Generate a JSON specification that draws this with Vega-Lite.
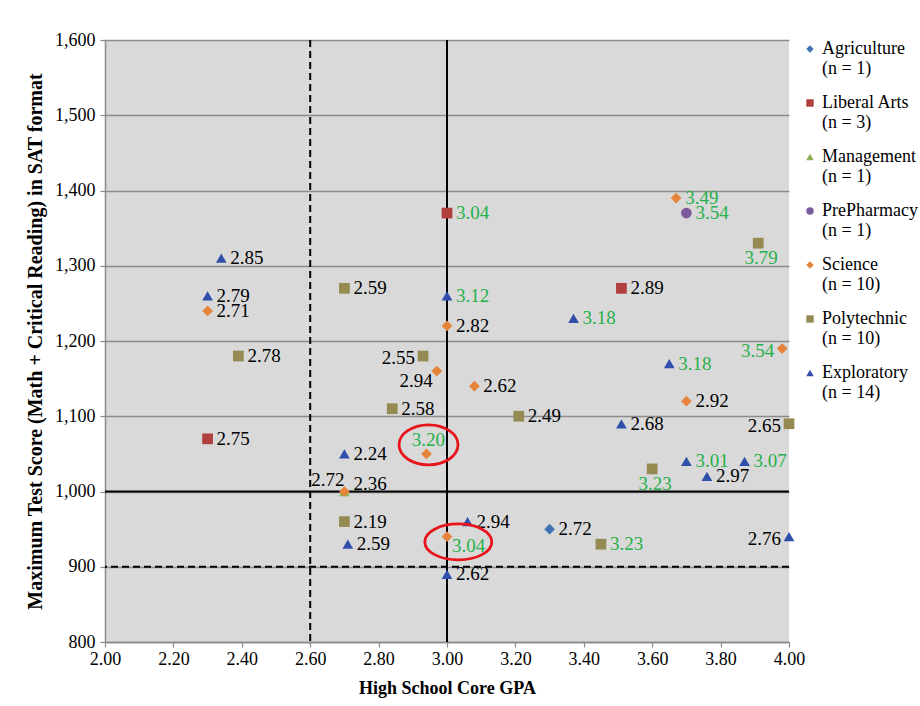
{
  "$schema": "https://vega.github.io/schema/vega-lite/v6.json",
  "width": 684,
  "height": 602,
  "autosize": {"type": "none"},
  "padding": {"left": 105, "top": 40, "right": 131, "bottom": 64},
  "background": "white",
  "config": {
    "view": {"fill": "#d9d9d9", "stroke": null},
    "font": "Liberation Serif",
    "text": {"font": "Liberation Serif", "fontSize": 19, "baseline": "middle"}
  },
  "data": {
    "values": [
      {"program": "Agriculture", "gpa": 3.30, "score": 950, "collegeGPA": 2.72},
      {"program": "Liberal Arts", "gpa": 3.00, "score": 1370, "collegeGPA": 3.04},
      {"program": "Liberal Arts", "gpa": 3.51, "score": 1270, "collegeGPA": 2.89},
      {"program": "Liberal Arts", "gpa": 2.30, "score": 1070, "collegeGPA": 2.75},
      {"program": "Management", "gpa": 2.70, "score": 1000, "collegeGPA": 2.72},
      {"program": "PrePharmacy", "gpa": 3.70, "score": 1370, "collegeGPA": 3.54},
      {"program": "Science", "gpa": 2.30, "score": 1240, "collegeGPA": 2.71},
      {"program": "Science", "gpa": 3.00, "score": 1220, "collegeGPA": 2.82},
      {"program": "Science", "gpa": 2.97, "score": 1160, "collegeGPA": 2.94},
      {"program": "Science", "gpa": 3.08, "score": 1140, "collegeGPA": 2.62},
      {"program": "Science", "gpa": 2.94, "score": 1050, "collegeGPA": 3.20},
      {"program": "Science", "gpa": 2.70, "score": 1000, "collegeGPA": 2.36},
      {"program": "Science", "gpa": 3.00, "score": 940, "collegeGPA": 3.04},
      {"program": "Science", "gpa": 3.67, "score": 1390, "collegeGPA": 3.49},
      {"program": "Science", "gpa": 3.98, "score": 1190, "collegeGPA": 3.54},
      {"program": "Science", "gpa": 3.70, "score": 1120, "collegeGPA": 2.92},
      {"program": "Polytechnic", "gpa": 2.70, "score": 1270, "collegeGPA": 2.59},
      {"program": "Polytechnic", "gpa": 2.39, "score": 1180, "collegeGPA": 2.78},
      {"program": "Polytechnic", "gpa": 2.93, "score": 1180, "collegeGPA": 2.55},
      {"program": "Polytechnic", "gpa": 2.84, "score": 1110, "collegeGPA": 2.58},
      {"program": "Polytechnic", "gpa": 2.70, "score": 960, "collegeGPA": 2.19},
      {"program": "Polytechnic", "gpa": 3.21, "score": 1100, "collegeGPA": 2.49},
      {"program": "Polytechnic", "gpa": 3.60, "score": 1030, "collegeGPA": 3.23},
      {"program": "Polytechnic", "gpa": 3.45, "score": 930, "collegeGPA": 3.23},
      {"program": "Polytechnic", "gpa": 3.91, "score": 1330, "collegeGPA": 3.79},
      {"program": "Polytechnic", "gpa": 4.00, "score": 1090, "collegeGPA": 2.65},
      {"program": "Exploratory", "gpa": 2.34, "score": 1310, "collegeGPA": 2.85},
      {"program": "Exploratory", "gpa": 2.30, "score": 1260, "collegeGPA": 2.79},
      {"program": "Exploratory", "gpa": 3.00, "score": 1260, "collegeGPA": 3.12},
      {"program": "Exploratory", "gpa": 2.70, "score": 1050, "collegeGPA": 2.24},
      {"program": "Exploratory", "gpa": 2.71, "score": 930, "collegeGPA": 2.59},
      {"program": "Exploratory", "gpa": 3.00, "score": 890, "collegeGPA": 2.62},
      {"program": "Exploratory", "gpa": 3.06, "score": 960, "collegeGPA": 2.94},
      {"program": "Exploratory", "gpa": 3.37, "score": 1230, "collegeGPA": 3.18},
      {"program": "Exploratory", "gpa": 3.65, "score": 1170, "collegeGPA": 3.18},
      {"program": "Exploratory", "gpa": 3.51, "score": 1090, "collegeGPA": 2.68},
      {"program": "Exploratory", "gpa": 3.70, "score": 1040, "collegeGPA": 3.01},
      {"program": "Exploratory", "gpa": 3.76, "score": 1020, "collegeGPA": 2.97},
      {"program": "Exploratory", "gpa": 3.87, "score": 1040, "collegeGPA": 3.07},
      {"program": "Exploratory", "gpa": 4.00, "score": 940, "collegeGPA": 2.76}
    ]
  },
  "layer": [
    {
      "data": {"values": [{}]},
      "mark": {"type": "rule", "color": "#000000", "strokeWidth": 2, "strokeDash": [7, 4]},
      "encoding": {"x": {"datum": 2.6, "type": "quantitative", "title": "High School Core GPA"}}
    },
    {
      "data": {"values": [{}]},
      "mark": {"type": "rule", "color": "#000000", "strokeWidth": 2},
      "encoding": {"x": {"datum": 3.0, "type": "quantitative", "title": "High School Core GPA"}}
    },
    {
      "data": {"values": [{}]},
      "mark": {"type": "rule", "color": "#000000", "strokeWidth": 2, "strokeDash": [7, 4]},
      "encoding": {"y": {"datum": 900, "type": "quantitative", "title": "Maximum Test Score (Math + Critical Reading) in SAT format"}}
    },
    {
      "data": {"values": [{}]},
      "mark": {"type": "rule", "color": "#000000", "strokeWidth": 2},
      "encoding": {"y": {"datum": 1000, "type": "quantitative", "title": "Maximum Test Score (Math + Critical Reading) in SAT format"}}
    },
    {
      "mark": {"type": "point", "filled": true, "opacity": 1, "size": 115, "strokeWidth": 0},
      "encoding": {
        "x": {
          "field": "gpa", "type": "quantitative", "title": "High School Core GPA",
          "scale": {"domain": [2, 4], "nice": false, "zero": false},
          "axis": {
            "values": [2, 2.2, 2.4, 2.6, 2.8, 3, 3.2, 3.4, 3.6, 3.8, 4],
            "format": ".2f", "grid": false, "labelFlush": false, "labelOverlap": false,
            "domainColor": "#8a8a8a", "domainWidth": 1.5, "tickColor": "#8a8a8a", "tickSize": 5, "tickWidth": 1.2,
            "labelFont": "Liberation Serif", "labelFontSize": 18, "labelColor": "#000000", "labelPadding": 3,
            "titleFont": "Liberation Serif", "titleFontSize": 18, "titleFontWeight": "bold", "titleColor": "#000000", "titlePadding": 11
          }
        },
        "y": {
          "field": "score", "type": "quantitative", "title": "Maximum Test Score (Math + Critical Reading) in SAT format",
          "scale": {"domain": [800, 1600], "nice": false, "zero": false},
          "axis": {
            "values": [800, 900, 1000, 1100, 1200, 1300, 1400, 1500, 1600],
            "format": ",d", "grid": true, "gridColor": "#8c8c8c", "gridWidth": 1.3, "labelFlush": false, "labelOverlap": false,
            "domainColor": "#8a8a8a", "domainWidth": 1.5, "tickColor": "#8a8a8a", "tickSize": 5, "tickWidth": 1.2,
            "labelFont": "Liberation Serif", "labelFontSize": 18, "labelColor": "#000000", "labelPadding": 5,
            "titleFont": "Liberation Serif", "titleFontSize": 20, "titleFontWeight": "bold", "titleColor": "#000000", "titlePadding": 9
          }
        },
        "color": {
          "field": "program", "type": "nominal",
          "scale": {
            "domain": ["Agriculture", "Liberal Arts", "Management", "PrePharmacy", "Science", "Polytechnic", "Exploratory"],
            "range": ["#3f73b3", "#b03f3d", "#8cb153", "#7b5b9e", "#e5843a", "#958b52", "#2f4fab"]
          },
          "legend": {
            "orient": "right", "offset": 12, "title": null, "padding": 0,
            "symbolSize": 55, "symbolStrokeWidth": 0,
            "labelFont": "Liberation Serif", "labelFontSize": 18, "labelColor": "#000000",
            "labelOffset": 3, "labelLimit": 200, "rowPadding": 16,
            "labelExpr": "[datum.label, '(n = ' + (datum.label == 'Liberal Arts' ? '3' : datum.label == 'Exploratory' ? '14' : (datum.label == 'Science' || datum.label == 'Polytechnic') ? '10' : '1') + ')']"
          }
        },
        "shape": {
          "field": "program", "type": "nominal",
          "scale": {
            "domain": ["Agriculture", "Liberal Arts", "Management", "PrePharmacy", "Science", "Polytechnic", "Exploratory"],
            "range": ["diamond", "square", "triangle-up", "circle", "diamond", "square", "triangle-up"]
          },
          "legend": {
            "orient": "right", "offset": 12, "title": null, "padding": 0,
            "symbolSize": 55, "symbolStrokeWidth": 0,
            "labelFont": "Liberation Serif", "labelFontSize": 18, "labelColor": "#000000",
            "labelOffset": 3, "labelLimit": 200, "rowPadding": 16,
            "labelExpr": "[datum.label, '(n = ' + (datum.label == 'Liberal Arts' ? '3' : datum.label == 'Exploratory' ? '14' : (datum.label == 'Science' || datum.label == 'Polytechnic') ? '10' : '1') + ')']"
          }
        }
      }
    },
    {
      "transform": [{"filter": "!((datum.program=='Polytechnic'&&(datum.collegeGPA==2.55||datum.collegeGPA==2.65||(datum.collegeGPA>=3.2&&datum.score>=1000)))||(datum.program=='Exploratory'&&datum.collegeGPA==2.76)||(datum.program=='Science'&&(datum.collegeGPA==3.54||datum.collegeGPA==2.94||datum.collegeGPA==2.36||datum.collegeGPA==3.2||datum.collegeGPA==3.04))||datum.program=='Management')"}],
      "mark": {"type": "text", "font": "Liberation Serif", "align": "left", "dx": 9, "dy": 0},
      "encoding": {
        "x": {"field": "gpa", "type": "quantitative", "title": "High School Core GPA"},
        "y": {"field": "score", "type": "quantitative", "title": "Maximum Test Score (Math + Critical Reading) in SAT format"},
        "text": {"field": "collegeGPA", "type": "quantitative", "format": ".2f"},
        "color": {"condition": {"test": "datum.collegeGPA >= 3", "value": "#27b14a"}, "value": "#000000"}
      }
    },
    {
      "transform": [{"filter": "(datum.program=='Polytechnic'&&(datum.collegeGPA==2.55||datum.collegeGPA==2.65))||(datum.program=='Exploratory'&&datum.collegeGPA==2.76)||(datum.program=='Science'&&datum.collegeGPA==3.54)"}],
      "mark": {"type": "text", "font": "Liberation Serif", "align": "right", "dx": -8, "dy": 2},
      "encoding": {
        "x": {"field": "gpa", "type": "quantitative", "title": "High School Core GPA"},
        "y": {"field": "score", "type": "quantitative", "title": "Maximum Test Score (Math + Critical Reading) in SAT format"},
        "text": {"field": "collegeGPA", "type": "quantitative", "format": ".2f"},
        "color": {"condition": {"test": "datum.collegeGPA >= 3", "value": "#27b14a"}, "value": "#000000"}
      }
    },
    {
      "transform": [{"filter": "datum.program=='Science'&&datum.collegeGPA==2.94"}],
      "mark": {"type": "text", "font": "Liberation Serif", "align": "right", "dx": -4, "dy": 10},
      "encoding": {
        "x": {"field": "gpa", "type": "quantitative", "title": "High School Core GPA"},
        "y": {"field": "score", "type": "quantitative", "title": "Maximum Test Score (Math + Critical Reading) in SAT format"},
        "text": {"field": "collegeGPA", "type": "quantitative", "format": ".2f"},
        "color": {"condition": {"test": "datum.collegeGPA >= 3", "value": "#27b14a"}, "value": "#000000"}
      }
    },
    {
      "transform": [{"filter": "datum.program=='Management'"}],
      "mark": {"type": "text", "font": "Liberation Serif", "align": "right", "dx": 0, "dy": -12},
      "encoding": {
        "x": {"field": "gpa", "type": "quantitative", "title": "High School Core GPA"},
        "y": {"field": "score", "type": "quantitative", "title": "Maximum Test Score (Math + Critical Reading) in SAT format"},
        "text": {"field": "collegeGPA", "type": "quantitative", "format": ".2f"},
        "color": {"condition": {"test": "datum.collegeGPA >= 3", "value": "#27b14a"}, "value": "#000000"}
      }
    },
    {
      "transform": [{"filter": "datum.program=='Science'&&datum.collegeGPA==2.36"}],
      "mark": {"type": "text", "font": "Liberation Serif", "align": "left", "dx": 9, "dy": -8},
      "encoding": {
        "x": {"field": "gpa", "type": "quantitative", "title": "High School Core GPA"},
        "y": {"field": "score", "type": "quantitative", "title": "Maximum Test Score (Math + Critical Reading) in SAT format"},
        "text": {"field": "collegeGPA", "type": "quantitative", "format": ".2f"},
        "color": {"condition": {"test": "datum.collegeGPA >= 3", "value": "#27b14a"}, "value": "#000000"}
      }
    },
    {
      "transform": [{"filter": "datum.program=='Science'&&datum.collegeGPA==3.2"}],
      "mark": {"type": "text", "font": "Liberation Serif", "align": "center", "dx": 2, "dy": -14},
      "encoding": {
        "x": {"field": "gpa", "type": "quantitative", "title": "High School Core GPA"},
        "y": {"field": "score", "type": "quantitative", "title": "Maximum Test Score (Math + Critical Reading) in SAT format"},
        "text": {"field": "collegeGPA", "type": "quantitative", "format": ".2f"},
        "color": {"condition": {"test": "datum.collegeGPA >= 3", "value": "#27b14a"}, "value": "#000000"}
      }
    },
    {
      "transform": [{"filter": "datum.program=='Polytechnic'&&datum.collegeGPA>=3.2&&datum.score>=1000"}],
      "mark": {"type": "text", "font": "Liberation Serif", "align": "center", "dx": 3, "dy": 15},
      "encoding": {
        "x": {"field": "gpa", "type": "quantitative", "title": "High School Core GPA"},
        "y": {"field": "score", "type": "quantitative", "title": "Maximum Test Score (Math + Critical Reading) in SAT format"},
        "text": {"field": "collegeGPA", "type": "quantitative", "format": ".2f"},
        "color": {"condition": {"test": "datum.collegeGPA >= 3", "value": "#27b14a"}, "value": "#000000"}
      }
    },
    {
      "transform": [{"filter": "datum.program=='Science'&&datum.collegeGPA==3.04"}],
      "mark": {"type": "text", "font": "Liberation Serif", "align": "left", "dx": 5, "dy": 9},
      "encoding": {
        "x": {"field": "gpa", "type": "quantitative", "title": "High School Core GPA"},
        "y": {"field": "score", "type": "quantitative", "title": "Maximum Test Score (Math + Critical Reading) in SAT format"},
        "text": {"field": "collegeGPA", "type": "quantitative", "format": ".2f"},
        "color": {"condition": {"test": "datum.collegeGPA >= 3", "value": "#27b14a"}, "value": "#000000"}
      }
    },
    {
      "data": {"values": [{"gpa": 2.946, "score": 1062}]},
      "mark": {"type": "point", "filled": false, "size": 3481, "stroke": "#e8141b", "strokeWidth": 2.8, "opacity": 1,
        "shape": "M1,0C1,0.3745,0.5523,0.678,0,0.678C-0.5523,0.678,-1,0.3745,-1,0C-1,-0.3745,-0.5523,-0.678,0,-0.678C0.5523,-0.678,1,-0.3745,1,0Z"},
      "encoding": {
        "x": {"field": "gpa", "type": "quantitative", "title": "High School Core GPA"},
        "y": {"field": "score", "type": "quantitative", "title": "Maximum Test Score (Math + Critical Reading) in SAT format"}
      }
    },
    {
      "data": {"values": [{"gpa": 3.033, "score": 933}]},
      "mark": {"type": "point", "filled": false, "size": 4489, "stroke": "#e8141b", "strokeWidth": 2.8, "opacity": 1,
        "shape": "M1,0C1,0.2966,0.5523,0.537,0,0.537C-0.5523,0.537,-1,0.2966,-1,0C-1,-0.2966,-0.5523,-0.537,0,-0.537C0.5523,-0.537,1,-0.2966,1,0Z"},
      "encoding": {
        "x": {"field": "gpa", "type": "quantitative", "title": "High School Core GPA"},
        "y": {"field": "score", "type": "quantitative", "title": "Maximum Test Score (Math + Critical Reading) in SAT format"}
      }
    }
  ]
}
